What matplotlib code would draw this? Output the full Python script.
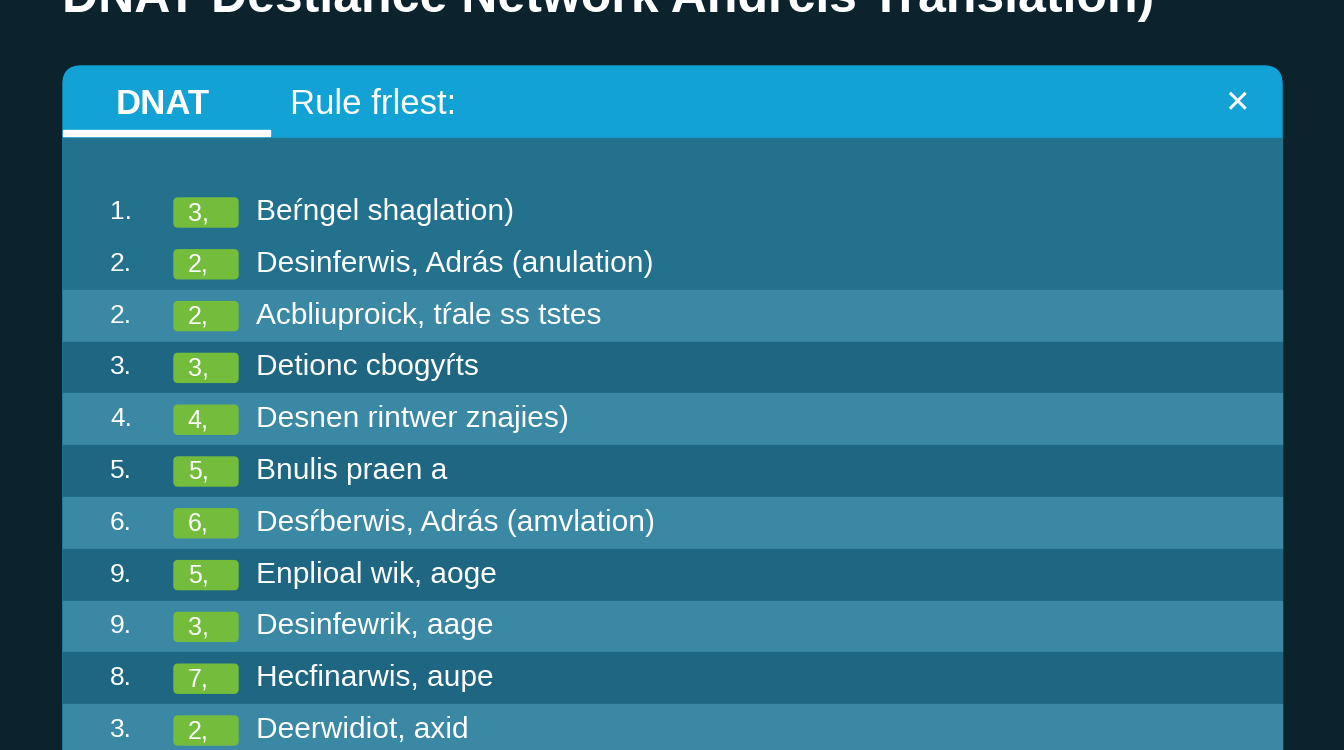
import matplotlib
matplotlib.use("Agg")
import matplotlib.pyplot as plt
from matplotlib.patches import Rectangle, FancyBboxPatch

title = "DNAT Destiance Network Andrcis Translation)"
tab_label = "DNAT"
header_label = "Rule frlest:"
row_numbers = ["1.", "2.", "2.", "3.", "4.", "5.", "6.", "9.", "9.", "8.", "3."]
badge_values = ["3,", "2,", "2,", "3,", "4,", "5,", "6,", "5,", "3,", "7,", "2,"]
row_labels = ["Beŕngel shaglation)", "Desinferwis, Adrás (anulation)",
              "Acbliuproick, tŕale ss tstes", "Detionc cbogyŕts",
              "Desnen rintwer znajies)", "Bnulis praen a",
              "Desŕberwis, Adrás (amvlation)", "Enplioal wik, aoge",
              "Desinfewrik, aage", "Hecfinarwis, aupe", "Deerwidiot, axid"]
row_shade = ["base", "base", "light", "dark", "light", "dark", "light", "dark", "light", "dark", "light"]

W, H = 1344, 750
fig = plt.figure(figsize=(13.44, 7.5), dpi=100)
ax = fig.add_axes([0, 0, 1, 1])
ax.set_xlim(0, W); ax.set_ylim(H, 0); ax.axis("off")
fig.patch.set_facecolor("#0c222c")
ax.add_patch(Rectangle((0, 0), W, H, color="#0c222c"))

ax.text(62, 12, title, fontsize=36, fontweight="bold", color="white",
        va="baseline", ha="left", family="Liberation Sans")

# panel
ax.add_patch(FancyBboxPatch((63, 66), 1219, 760, boxstyle="round,pad=0,rounding_size=18",
                            color="#12a2d6"))
ax.add_patch(Rectangle((63, 138), 1219, 620, color="#23718d"))
ax.add_patch(Rectangle((63, 130), 207, 6, color="white"))
ax.text(116, 104, tab_label, fontsize=25, fontweight="bold", color="white", va="center", family="Liberation Sans")
ax.text(290, 104, header_label, fontsize=25, color="white", va="center", family="Liberation Sans")
ax.text(1237, 104, "✕", fontsize=22, color="white", va="center", ha="center", family="DejaVu Sans")

shade_col = {"base": None, "light": "#3a88a4", "dark": "#1e6682"}
y0, dy = 212, 51.8
for i, (n, b, lab, sh) in enumerate(zip(row_numbers, badge_values, row_labels, row_shade)):
    y = y0 + i * dy
    if shade_col[sh]:
        ax.add_patch(Rectangle((63, y - dy / 2), 1219, dy, color=shade_col[sh]))
    ax.text(110, y, n, fontsize=19, color="white", va="center", family="Liberation Sans")
    ax.add_patch(FancyBboxPatch((174, y - 14), 64, 29, boxstyle="round,pad=0,rounding_size=4",
                                color="#74bd3c"))
    ax.text(198, y + 1, b, fontsize=18, color="white", va="center", ha="center", family="Liberation Sans")
    ax.text(256, y, lab, fontsize=21.5, color="white", va="center", family="Liberation Sans")

fig.savefig("out.png", dpi=100, facecolor=fig.get_facecolor())
